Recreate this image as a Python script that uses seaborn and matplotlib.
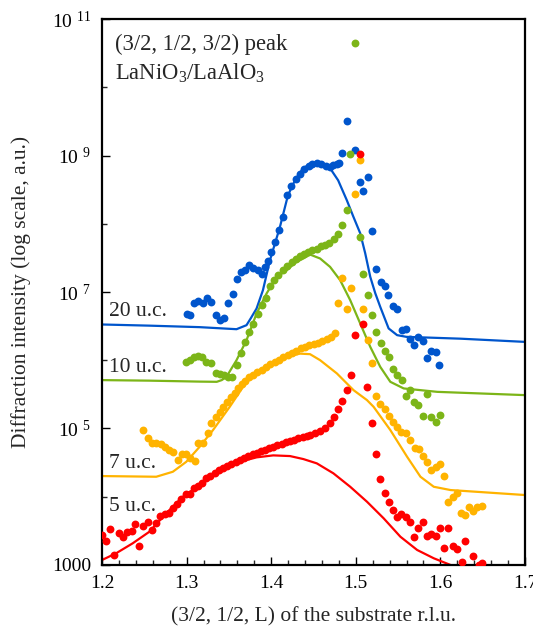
import numpy as np
import pandas as pd
import matplotlib
matplotlib.use("Agg")
import matplotlib.pyplot as plt
import seaborn as sns
from matplotlib.ticker import FixedLocator, MultipleLocator, NullFormatter

# measured points: L (r.l.u.) and log10 of intensity
blue_L = [1.300, 1.3036, 1.3087, 1.3134, 1.3193, 1.3241, 1.3293, 1.3344, 1.3391, 1.3442,
          1.3490, 1.3549, 1.3590, 1.3641, 1.3688, 1.3739, 1.3786, 1.3839, 1.3886, 1.3925,
          1.3957, 1.3996, 1.4044, 1.4095, 1.4142, 1.4183, 1.4234, 1.4289, 1.4340, 1.4391,
          1.4447, 1.4486, 1.4539, 1.4590, 1.4645, 1.4696, 1.4736, 1.4776, 1.4803, 1.4835,
          1.4890, 1.4993, 1.5044, 1.5088, 1.5139, 1.5191, 1.5242, 1.5298, 1.5349, 1.5384,
          1.5440, 1.5491, 1.5542, 1.5594, 1.5645, 1.5684, 1.5740, 1.5791, 1.5843, 1.5894,
          1.5950, 1.5989]
blue_log = [6.685, 6.660, 6.840, 6.870, 6.832, 6.905, 6.855, 6.660, 6.597, 6.621,
            6.832, 6.978, 7.187, 7.294, 7.329, 7.392, 7.359, 7.329, 7.271, 7.368,
            7.451, 7.587, 7.734, 7.905, 8.100, 8.417, 8.549, 8.652, 8.735, 8.808,
            8.852, 8.881, 8.890, 8.881, 8.846, 8.832, 8.857, 8.881, 8.890, 9.043,
            9.511, 9.076, 8.608, 8.480, 8.691, 7.900, 7.334, 7.143, 7.081, 6.963,
            6.802, 6.758, 6.436, 6.455, 6.309, 6.225, 6.338, 6.275, 6.031, 6.133,
            6.114, 5.924]

green_L = [1.2996, 1.3036, 1.3087, 1.3134, 1.3186, 1.3234, 1.3293, 1.3344, 1.3391, 1.3442,
           1.3490, 1.3542, 1.3590, 1.3641, 1.3688, 1.3739, 1.3786, 1.3839, 1.3886, 1.3937,
           1.3985, 1.4036, 1.4083, 1.4135, 1.4190, 1.4242, 1.4293, 1.4340, 1.4391, 1.4439,
           1.4486, 1.4539, 1.4590, 1.4637, 1.4688, 1.4744, 1.4788, 1.4835, 1.4890, 1.4937,
           1.4996, 1.5049, 1.5088, 1.5139, 1.5191, 1.5242, 1.5293, 1.5349, 1.5388, 1.5440,
           1.5491, 1.5547, 1.5598, 1.5645, 1.5684, 1.5737, 1.5796, 1.5843, 1.5894, 1.5942,
           1.5993]
green_log = [5.977, 6.001, 6.050, 6.064, 6.050, 5.977, 5.953, 5.816, 5.797, 5.782,
             5.757, 5.757, 5.928, 6.108, 6.269, 6.416, 6.529, 6.685, 6.807, 6.914,
             7.089, 7.173, 7.246, 7.319, 7.382, 7.441, 7.480, 7.524, 7.553, 7.587,
             7.612, 7.637, 7.671, 7.695, 7.725, 7.773, 7.857, 7.978, 8.208, 9.028,
             10.653, 7.807, 7.261, 6.953, 6.660, 6.407, 6.246, 6.133, 6.050, 5.870,
             5.782, 5.709, 5.474, 5.570, 5.391, 5.343, 5.182, 5.504, 5.162, 5.098,
             5.196]

orange_L = [1.2482, 1.2541, 1.2593, 1.2641, 1.2692, 1.2739, 1.2790, 1.2837, 1.2897, 1.2949,
            1.2996, 1.3036, 1.3095, 1.3134, 1.3193, 1.3253, 1.3293, 1.3344, 1.3391, 1.3431,
            1.3483, 1.3530, 1.3569, 1.3609, 1.3649, 1.3688, 1.3735, 1.3786, 1.3837, 1.3888,
            1.3939, 1.3990, 1.4042, 1.4093, 1.4144, 1.4195, 1.4246, 1.4297, 1.4348, 1.4399,
            1.4450, 1.4501, 1.4552, 1.4603, 1.4654, 1.4705, 1.4756, 1.4788, 1.4842, 1.4890,
            1.4942, 1.4993, 1.5044, 1.5088, 1.5139, 1.5191, 1.5242, 1.5289, 1.5340, 1.5388,
            1.5440, 1.5488, 1.5539, 1.5598, 1.5645, 1.5696, 1.5744, 1.5796, 1.5843, 1.5894,
            1.5942, 1.5993, 1.6040, 1.6093, 1.6144, 1.6191, 1.6238, 1.6286, 1.6337, 1.6389,
            1.6437, 1.6496]
orange_log = [4.977, 4.855, 4.791, 4.782, 4.772, 4.732, 4.684, 4.659, 4.537, 4.625,
              4.625, 4.562, 4.527, 4.782, 4.782, 4.928, 5.075, 5.162, 5.245, 5.318,
              5.391, 5.455, 5.523, 5.587, 5.646, 5.694, 5.753, 5.789, 5.826, 5.862,
              5.899, 5.943, 5.980, 6.009, 6.045, 6.075, 6.111, 6.141, 6.177, 6.199,
              6.221, 6.236, 6.250, 6.287, 6.316, 6.346, 6.397, 6.840, 7.207, 6.758,
              7.066, 8.432, 8.930, 6.758, 6.294, 5.953, 5.474, 5.357, 5.280, 5.182,
              5.098, 5.016, 4.952, 4.937, 4.830, 4.717, 4.698, 4.600, 4.512, 4.391,
              4.430, 4.474, 4.307, 3.927, 3.991, 4.050, 3.757, 3.732, 3.845, 3.795,
              3.845, 3.864]

red_L = [1.2000, 1.2047, 1.2095, 1.2138, 1.2197, 1.2244, 1.2297, 1.2351, 1.2391, 1.2442,
         1.2490, 1.2541, 1.2593, 1.2641, 1.2688, 1.2739, 1.2790, 1.2837, 1.2885, 1.2937,
         1.2988, 1.3036, 1.3083, 1.3134, 1.3186, 1.3234, 1.3281, 1.3332, 1.3383, 1.3431,
         1.3478, 1.3530, 1.3581, 1.3629, 1.3676, 1.3727, 1.3779, 1.3827, 1.3874, 1.3925,
         1.3976, 1.4024, 1.4071, 1.4123, 1.4174, 1.4222, 1.4269, 1.4320, 1.4372, 1.4420,
         1.4459, 1.4518, 1.4578, 1.4637, 1.4696, 1.4747, 1.4788, 1.4835, 1.4894, 1.4942,
         1.4993, 1.5049, 1.5084, 1.5135, 1.5191, 1.5242, 1.5289, 1.5349, 1.5388, 1.5440,
         1.5488, 1.5539, 1.5598, 1.5645, 1.5693, 1.5737, 1.5791, 1.5843, 1.5894, 1.5942,
         1.5993, 1.6040, 1.6093, 1.6144, 1.6191, 1.6250, 1.6289, 1.6389, 1.6452, 1.6496]
red_log = [3.439, 3.356, 3.523, 3.146, 3.473, 3.414, 3.488, 3.498, 3.600, 3.283,
           3.571, 3.634, 3.512, 3.611, 3.717, 3.742, 3.757, 3.830, 3.893, 3.962,
           4.040, 4.040, 4.123, 4.157, 4.205, 4.269, 4.303, 4.351, 4.391, 4.416,
           4.449, 4.479, 4.512, 4.537, 4.562, 4.596, 4.625, 4.644, 4.669, 4.684,
           4.709, 4.732, 4.757, 4.772, 4.796, 4.816, 4.830, 4.855, 4.870, 4.893,
           4.903, 4.928, 4.966, 5.001, 5.075, 5.162, 5.280, 5.406, 5.562, 5.782,
           6.368, 9.028, 6.529, 5.602, 5.083, 4.625, 4.259, 4.050, 3.927, 3.805,
           3.698, 3.747, 3.707, 3.634, 3.414, 3.537, 3.634, 3.429, 3.454, 3.429,
           3.537, 3.256, 3.537, 3.283, 3.234, 3.044, 3.356, 3.136, 3.000, 3.025]

# fitted curves
fit_blue_L = [1.200, 1.2561, 1.3154, 1.3590, 1.3708, 1.3759, 1.3827, 1.3902, 1.3985, 1.4103,
              1.4198, 1.4281, 1.4376, 1.4495, 1.4601, 1.4696, 1.4791, 1.4894, 1.4969, 1.5052,
              1.5111, 1.5171, 1.5230, 1.5289, 1.5388, 1.5488, 1.5598, 1.6238, 1.700]
fit_blue_log = [6.524, 6.507, 6.485, 6.455, 6.514, 6.616, 6.758, 7.026, 7.466, 7.953,
                8.417, 8.637, 8.813, 8.900, 8.886, 8.813, 8.637, 8.344, 8.110, 7.861,
                7.568, 7.221, 6.982, 6.782, 6.466, 6.368, 6.343, 6.316, 6.269]

fit_green_L = [1.200, 1.2561, 1.3154, 1.3356, 1.3415, 1.3471, 1.3590, 1.3708, 1.3827, 1.3945,
               1.4064, 1.4183, 1.4293, 1.4380, 1.4459, 1.4578, 1.4696, 1.4815, 1.4934, 1.5052,
               1.5171, 1.5289, 1.5408, 1.5566, 1.5962, 1.700]
fit_green_log = [5.709, 5.701, 5.687, 5.684, 5.709, 5.757, 6.001, 6.294, 6.685, 6.978,
                 7.221, 7.319, 7.436, 7.491, 7.549, 7.491, 7.368, 7.173, 6.880, 6.539,
                 6.196, 5.903, 5.684, 5.587, 5.537, 5.489]

fit_orange_L = [1.200, 1.2641, 1.2837, 1.2996, 1.3154, 1.3312, 1.3510, 1.3668, 1.3818, 1.3985,
                1.4163, 1.4340, 1.4459, 1.4578, 1.4776, 1.4973, 1.5132, 1.5210, 1.5408, 1.5606,
                1.5764, 1.5922, 1.6120, 1.700]
fit_orange_log = [4.303, 4.293, 4.366, 4.512, 4.732, 4.977, 5.318, 5.611, 5.826, 5.943,
                  6.045, 6.097, 6.089, 6.001, 5.807, 5.562, 5.416, 5.318, 4.977, 4.586,
                  4.293, 4.146, 4.098, 4.025]

fit_red_L = [1.200, 1.2166, 1.2363, 1.2561, 1.2759, 1.2956, 1.3154, 1.3431, 1.3629, 1.3827,
             1.4024, 1.4222, 1.4380, 1.4539, 1.4735, 1.4934, 1.5132, 1.5329, 1.5527, 1.5725,
             1.5922, 1.6120, 1.6191]
fit_red_log = [3.073, 3.171, 3.318, 3.488, 3.757, 4.000, 4.171, 4.391, 4.512, 4.577,
               4.606, 4.596, 4.552, 4.489, 4.343, 4.146, 3.927, 3.684, 3.414, 3.220,
               3.098, 3.000, 2.956]

series = [
    ("20 u.c.", "#0055cc", blue_L, blue_log, fit_blue_L, fit_blue_log, 6.72),
    ("10 u.c.", "#7cb518", green_L, green_log, fit_green_L, fit_green_log, 5.90),
    ("7 u.c.", "#ffb300", orange_L, orange_log, fit_orange_L, fit_orange_log, 4.48),
    ("5 u.c.", "#ff0000", red_L, red_log, fit_red_L, fit_red_log, 3.85),
]

sns.set_style("ticks")
plt.rcParams["font.family"] = ["Liberation Serif", "DejaVu Serif"]
plt.rcParams["mathtext.fontset"] = "custom"
plt.rcParams["mathtext.rm"] = "Liberation Serif"
plt.rcParams["mathtext.it"] = "Liberation Serif:italic"

fig = plt.figure(figsize=(5.33, 6.3), dpi=100)
ax = fig.add_axes([0.1914, 0.1032, 0.7936, 0.8666])

for name, color, L, lg, fL, flg, ypos in series:
    pts = pd.DataFrame({"L": L, "I": 10 ** np.array(lg)})
    fit = pd.DataFrame({"L": fL, "I": 10 ** np.array(flg)})
    sns.lineplot(data=fit, x="L", y="I", color=color, linewidth=1.6,
                 sort=False, estimator=None, ax=ax, zorder=2)
    sns.scatterplot(data=pts, x="L", y="I", color=color, s=32, linewidth=0,
                    ax=ax, zorder=3, clip_on=True)
    ax.text(1.2085, 10 ** ypos, name, fontsize=15.5, va="center", ha="left")

ax.set_yscale("log")
ax.set_xlim(1.2, 1.7)
ax.set_ylim(1e3, 1e11)

ax.set_xticks([1.2, 1.3, 1.4, 1.5, 1.6, 1.7])
ax.set_xticklabels(["1.2", "1.3", "1.4", "1.5", "1.6", "1.7"])
ax.xaxis.set_minor_locator(MultipleLocator(0.02))

ax.yaxis.set_major_locator(FixedLocator([1e3, 1e5, 1e7, 1e9, 1e11]))
ax.yaxis.set_minor_locator(FixedLocator([1e4, 1e6, 1e8, 1e10]))
ax.yaxis.set_minor_formatter(NullFormatter())
ax.set_yticklabels(["1000", "10 $^{5}$", "10 $^{7}$", "10 $^{9}$", "10 $^{11}$"])

ax.tick_params(axis="both", which="major", direction="in", length=6, width=1,
               labelsize=14, pad=7, colors="black")
ax.tick_params(axis="y", which="major", pad=8)
ax.tick_params(axis="both", which="minor", direction="in", length=3.5, width=1)
for sp in ax.spines.values():
    sp.set_linewidth(1.6)
    sp.set_color("black")

ax.set_xlabel("(3/2, 1/2, L) of the substrate r.l.u.", fontsize=15.5, labelpad=11)
ax.set_ylabel("Diffraction intensity (log scale, a.u.)", fontsize=15.5, labelpad=15)

ax.text(0.03, 0.954, "(3/2, 1/2, 3/2) peak", transform=ax.transAxes,
        fontsize=16.3, va="center", ha="left")
ax.text(0.03, 0.900, "LaNiO$_3$/LaAlO$_3$", transform=ax.transAxes,
        fontsize=16.3, va="center", ha="left")

fig.savefig("out.png", dpi=100)
